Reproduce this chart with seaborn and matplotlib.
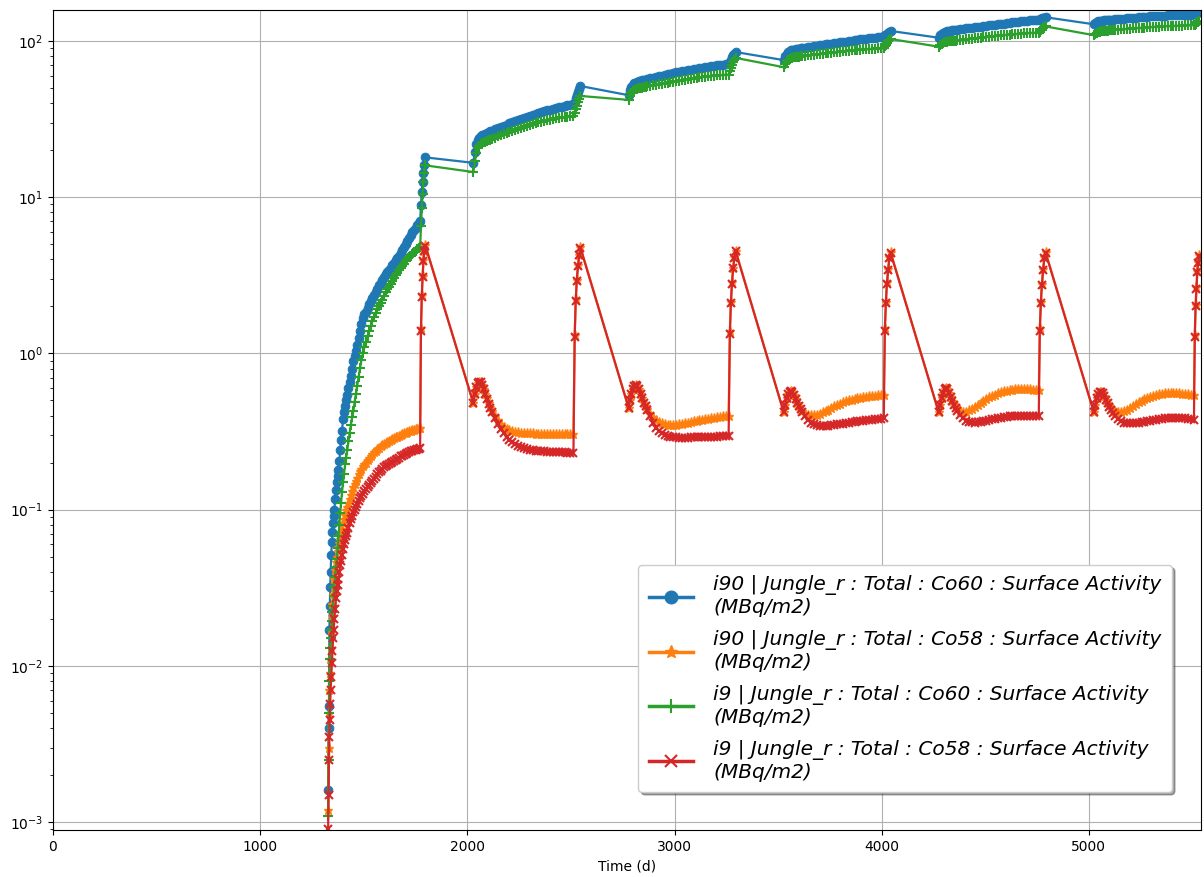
import matplotlib
matplotlib.use("Agg")
import matplotlib.pyplot as plt
import seaborn as sns
import pandas as pd

# Output times (days). Each operating cycle ends with six shutdown samples;
# there is no output between a shutdown and the next start-up.
days = [
    # cycle 1
    1328, 1330, 1332, 1334, 1336, 1338, 1340, 1343, 1346, 1349,
    1352, 1355, 1358, 1362, 1366, 1370, 1374, 1378, 1382, 1386,
    1390, 1395, 1400, 1405, 1410, 1415, 1420, 1426, 1432, 1438,
    1444, 1450, 1456, 1462, 1468, 1475, 1482, 1489, 1496, 1503,
    1510, 1518, 1526, 1534, 1542, 1550, 1558, 1566, 1574, 1582,
    1590, 1598, 1606, 1614, 1622, 1630, 1638, 1646, 1654, 1662,
    1670, 1678, 1686, 1694, 1702, 1710, 1718, 1726, 1734, 1742,
    1750, 1758, 1766, 1772,
    1776, 1780, 1784, 1788, 1792, 1797,
    # cycle 2
    2029, 2036, 2043, 2050, 2057, 2064, 2071, 2079, 2087, 2095,
    2103, 2111, 2119, 2133, 2147, 2161, 2175, 2189, 2203, 2217,
    2231, 2245, 2259, 2273, 2287, 2301, 2315, 2329, 2343, 2357,
    2371, 2385, 2399, 2413, 2427, 2441, 2455, 2469, 2483, 2497, 2512,
    2518, 2523, 2528, 2534, 2540, 2546,
    # cycle 3
    2778, 2785, 2792, 2799, 2806, 2813, 2820, 2828, 2836, 2844,
    2852, 2860, 2868, 2882, 2896, 2910, 2924, 2938, 2952, 2966,
    2980, 2994, 3008, 3022, 3036, 3050, 3064, 3078, 3092, 3106,
    3120, 3134, 3148, 3162, 3176, 3190, 3204, 3218, 3232, 3246, 3261,
    3267, 3272, 3277, 3283, 3289, 3295,
    # cycle 4
    3527, 3534, 3541, 3548, 3555, 3562, 3569, 3577, 3585, 3593,
    3601, 3609, 3617, 3631, 3645, 3659, 3673, 3687, 3701, 3715,
    3729, 3743, 3757, 3771, 3785, 3799, 3813, 3827, 3841, 3855,
    3869, 3883, 3897, 3911, 3925, 3939, 3953, 3967, 3981, 3995, 4010,
    4015, 4020, 4025, 4031, 4037, 4043,
    # cycle 5
    4275, 4282, 4289, 4296, 4303, 4310, 4317, 4325, 4333, 4341,
    4349, 4357, 4365, 4379, 4393, 4407, 4421, 4435, 4449, 4463,
    4477, 4491, 4505, 4519, 4533, 4547, 4561, 4575, 4589, 4603,
    4617, 4631, 4645, 4659, 4673, 4687, 4701, 4715, 4729, 4743, 4758,
    4763, 4768, 4773, 4779, 4785, 4791,
    # cycle 6
    5024, 5031, 5038, 5045, 5052, 5059, 5066, 5074, 5082, 5090,
    5098, 5106, 5114, 5128, 5142, 5156, 5170, 5184, 5198, 5212,
    5226, 5240, 5254, 5268, 5282, 5296, 5310, 5324, 5338, 5352,
    5366, 5380, 5394, 5408, 5422, 5436, 5450, 5464, 5478, 5492, 5507,
    5511, 5515, 5519, 5523, 5527, 5532,
]

# Surface activity (MBq/m2)
co60_i90 = [
    0.0016, 0.004, 0.0055, 0.017, 0.024, 0.032, 0.04, 0.051, 0.062, 0.072,
    0.082, 0.091, 0.10, 0.117, 0.133, 0.15, 0.164, 0.18, 0.205, 0.24,
    0.28, 0.32, 0.38, 0.42, 0.46, 0.50, 0.54, 0.60, 0.66, 0.72,
    0.80, 0.89, 0.96, 1.03, 1.13, 1.26, 1.4, 1.55, 1.68, 1.78,
    1.85, 1.96, 2.06, 2.17, 2.27, 2.37, 2.48, 2.6, 2.73, 2.84,
    2.95, 3.08, 3.22, 3.33, 3.44, 3.55, 3.67, 3.8, 3.94, 4.08,
    4.23, 4.42, 4.6, 4.83, 5.05, 5.28, 5.52, 5.75, 5.97, 6.2,
    6.4, 6.62, 6.83, 7.0,
    8.9, 10.8, 12.5, 14.3, 16.1, 18.0,
    16.6, 19.5, 22.0, 23.4, 24.1, 24.6, 24.9, 25.2, 25.5, 25.9,
    26.1, 26.4, 26.7, 27.2, 27.7, 28.2, 28.7, 29.2, 29.7, 30.2,
    30.7, 31.2, 31.7, 32.2, 32.7, 33.2, 33.7, 34.2, 34.7, 35.2,
    35.6, 36.0, 36.4, 36.8, 37.2, 37.6, 38.0, 38.4, 38.8, 39.1, 39.5,
    41.0, 43.0, 45.0, 47.5, 49.5, 51.5,
    45.0, 48.5, 51.0, 52.5, 53.5, 54.1, 54.6, 55.1, 55.5, 55.9,
    56.3, 56.7, 57.0, 57.6, 58.2, 58.8, 59.4, 60.0, 60.6, 61.2,
    61.8, 62.4, 63.0, 63.5, 64.0, 64.5, 65.0, 65.5, 66.0, 66.5,
    67.0, 67.5, 68.0, 68.5, 69.0, 69.4, 69.8, 70.2, 70.5, 70.8, 71.0,
    73.5, 76.0, 78.5, 81.0, 83.0, 85.0,
    75.5, 80.0, 83.0, 85.0, 86.3, 87.1, 87.7, 88.2, 88.7, 89.1,
    89.5, 89.9, 90.3, 90.9, 91.5, 92.1, 92.7, 93.3, 93.9, 94.5,
    95.1, 95.7, 96.3, 96.9, 97.5, 98.1, 98.7, 99.3, 99.9, 100.5,
    101.1, 101.7, 102.3, 102.9, 103.5, 104.1, 104.7, 105.3, 105.9, 106.5, 107.0,
    108.5, 110.0, 111.5, 113.0, 114.5, 116.0,
    105.0, 108.5, 111.0, 112.8, 114.0, 114.9, 115.5, 116.0, 116.5, 117.0,
    117.4, 117.8, 118.2, 118.9, 119.6, 120.3, 121.0, 121.7, 122.4, 123.1,
    123.8, 124.5, 125.2, 125.9, 126.6, 127.3, 128.0, 128.7, 129.4, 130.1,
    130.8, 131.5, 132.2, 132.9, 133.6, 134.2, 134.8, 135.4, 136.0, 136.5, 137.0,
    137.8, 138.8, 139.7, 140.6, 141.4, 142.0,
    128.0, 130.5, 132.3, 133.5, 134.3, 134.8, 135.2, 135.6, 136.0, 136.3,
    136.6, 136.9, 137.2, 137.7, 138.2, 138.7, 139.2, 139.7, 140.2, 140.7,
    141.2, 141.7, 142.2, 142.7, 143.2, 143.6, 144.0, 144.4, 144.8, 145.2,
    145.5, 145.8, 146.1, 146.4, 146.7, 147.0, 147.2, 147.4, 147.6, 147.8, 148.0,
    149.0, 150.0, 151.0, 152.0, 153.0, 154.0,
]

co58_i90 = [
    0.0012, 0.003, 0.005, 0.007, 0.009, 0.011, 0.013, 0.017, 0.021, 0.025,
    0.029, 0.032, 0.036, 0.041, 0.046, 0.05, 0.054, 0.058, 0.061, 0.065,
    0.07, 0.075, 0.082, 0.087, 0.093, 0.099, 0.104, 0.11, 0.117, 0.125,
    0.132, 0.139, 0.146, 0.152, 0.16, 0.168, 0.176, 0.183, 0.189, 0.195,
    0.2, 0.208, 0.215, 0.221, 0.227, 0.233, 0.239, 0.244, 0.249, 0.254,
    0.258, 0.263, 0.267, 0.271, 0.275, 0.279, 0.284, 0.288, 0.291, 0.294,
    0.298, 0.302, 0.305, 0.308, 0.311, 0.314, 0.317, 0.32, 0.322, 0.325,
    0.327, 0.329, 0.331, 0.333,
    1.45, 2.35, 3.15, 3.95, 4.55, 4.95,
    0.48, 0.55, 0.61, 0.645, 0.66, 0.655, 0.63, 0.59, 0.55, 0.515,
    0.485, 0.455, 0.43, 0.40, 0.375, 0.355, 0.34, 0.33, 0.323, 0.318,
    0.315, 0.313, 0.311, 0.31, 0.309, 0.308, 0.308, 0.307, 0.307, 0.306,
    0.306, 0.306, 0.305, 0.305, 0.305, 0.305, 0.305, 0.305, 0.305, 0.305, 0.305,
    1.32, 2.22, 2.95, 3.68, 4.30, 4.78,
    0.45, 0.50, 0.55, 0.59, 0.62, 0.63, 0.62, 0.59, 0.55, 0.515,
    0.485, 0.46, 0.44, 0.41, 0.39, 0.375, 0.365, 0.358, 0.353, 0.35,
    0.349, 0.349, 0.35, 0.352, 0.355, 0.358, 0.361, 0.364, 0.367, 0.37,
    0.373, 0.376, 0.379, 0.382, 0.385, 0.388, 0.391, 0.394, 0.396, 0.398, 0.40,
    1.40, 2.15, 2.85, 3.55, 4.15, 4.55,
    0.42, 0.47, 0.52, 0.55, 0.57, 0.575, 0.565, 0.54, 0.51, 0.485,
    0.46, 0.442, 0.428, 0.412, 0.404, 0.401, 0.402, 0.406, 0.412, 0.419,
    0.427, 0.437, 0.448, 0.458, 0.468, 0.477, 0.486, 0.494, 0.501, 0.507,
    0.513, 0.518, 0.522, 0.526, 0.529, 0.532, 0.535, 0.537, 0.539, 0.541, 0.542,
    1.45, 2.15, 2.85, 3.45, 4.15, 4.45,
    0.42, 0.47, 0.52, 0.56, 0.59, 0.60, 0.59, 0.56, 0.525, 0.497,
    0.475, 0.458, 0.445, 0.43, 0.424, 0.425, 0.432, 0.442, 0.455, 0.468,
    0.482, 0.496, 0.51, 0.523, 0.535, 0.546, 0.556, 0.564, 0.571, 0.577,
    0.582, 0.586, 0.589, 0.59, 0.591, 0.591, 0.59, 0.589, 0.587, 0.586, 0.585,
    1.45, 2.15, 2.80, 3.45, 4.15, 4.45,
    0.42, 0.47, 0.52, 0.55, 0.57, 0.57, 0.56, 0.535, 0.507, 0.485,
    0.465, 0.45, 0.438, 0.425, 0.42, 0.421, 0.427, 0.436, 0.447, 0.46,
    0.473, 0.486, 0.498, 0.509, 0.519, 0.528, 0.536, 0.543, 0.549, 0.553,
    0.556, 0.558, 0.559, 0.559, 0.558, 0.556, 0.553, 0.55, 0.547, 0.544, 0.541,
    1.32, 2.05, 2.65, 3.35, 3.85, 4.25,
]

co60_i9 = [
    0.0011, 0.0025, 0.005, 0.008, 0.011, 0.013, 0.015, 0.017, 0.0195, 0.022,
    0.024, 0.028, 0.032, 0.037, 0.043, 0.048, 0.057, 0.068, 0.08, 0.095,
    0.11, 0.13, 0.15, 0.17, 0.195, 0.215, 0.24, 0.275, 0.31, 0.35,
    0.39, 0.43, 0.49, 0.55, 0.62, 0.71, 0.81, 0.91, 1.0, 1.1,
    1.18, 1.29, 1.39, 1.5, 1.61, 1.72, 1.82, 1.92, 2.02, 2.11,
    2.2, 2.33, 2.47, 2.58, 2.68, 2.79, 2.92, 3.05, 3.17, 3.29,
    3.41, 3.53, 3.65, 3.76, 3.88, 4.0, 4.12, 4.22, 4.33, 4.44,
    4.55, 4.64, 4.73, 4.8,
    6.5, 8.5, 10.5, 12.5, 14.3, 16.0,
    14.5, 17.0, 19.2, 20.6, 21.4, 21.9, 22.2, 22.5, 22.7, 23.0,
    23.2, 23.4, 23.7, 24.1, 24.5, 24.9, 25.3, 25.7, 26.1, 26.5,
    26.9, 27.4, 27.8, 28.2, 28.6, 29.0, 29.4, 29.8, 30.2, 30.5,
    30.8, 31.1, 31.4, 31.7, 32.0, 32.2, 32.4, 32.6, 32.8, 32.9, 33.0,
    34.5, 36.5, 38.5, 40.5, 42.5, 44.5,
    42.0, 44.5, 46.5, 47.8, 48.6, 49.1, 49.5, 49.8, 50.1, 50.4,
    50.7, 51.0, 51.3, 51.7, 52.1, 52.5, 52.9, 53.3, 53.7, 54.1,
    54.5, 54.9, 55.3, 55.7, 56.1, 56.5, 56.9, 57.3, 57.7, 58.1,
    58.5, 58.8, 59.1, 59.4, 59.7, 60.0, 60.2, 60.4, 60.6, 60.8, 61.0,
    64.0, 67.0, 70.0, 73.0, 75.5, 78.0,
    68.0, 71.5, 74.0, 75.8, 77.0, 77.7, 78.2, 78.6, 79.0, 79.3,
    79.6, 79.9, 80.2, 80.6, 81.0, 81.4, 81.8, 82.2, 82.6, 83.0,
    83.4, 83.8, 84.2, 84.6, 85.0, 85.4, 85.8, 86.2, 86.6, 87.0,
    87.4, 87.7, 88.0, 88.3, 88.6, 88.9, 89.2, 89.5, 89.8, 90.0, 90.3,
    92.5, 95.0, 97.5, 99.5, 101.5, 103.0,
    92.0, 94.5, 96.3, 97.5, 98.3, 98.8, 99.2, 99.5, 99.8, 100.1,
    100.4, 100.7, 101.0, 101.5, 102.0, 102.5, 103.0, 103.5, 104.0, 104.5,
    105.0, 105.5, 106.0, 106.5, 107.0, 107.5, 108.0, 108.5, 109.0, 109.5,
    110.0, 110.4, 110.8, 111.2, 111.6, 112.0, 112.3, 112.6, 112.8, 113.0, 113.2,
    115.0, 117.0, 119.0, 121.0, 122.5, 124.0,
    109.0, 111.5, 113.2, 114.3, 115.0, 115.4, 115.8, 116.1, 116.4, 116.7,
    117.0, 117.3, 117.6, 118.0, 118.4, 118.8, 119.2, 119.6, 120.0, 120.4,
    120.8, 121.2, 121.6, 122.0, 122.4, 122.7, 123.0, 123.3, 123.6, 123.9,
    124.2, 124.5, 124.8, 125.0, 125.2, 125.4, 125.6, 125.8, 126.0, 126.2, 126.4,
    127.5, 129.0, 130.5, 132.0, 133.0, 134.0,
]

co58_i9 = [
    0.0009, 0.0015, 0.0025, 0.0035, 0.0045, 0.0057, 0.007, 0.0085, 0.0105, 0.0125,
    0.015, 0.017, 0.02, 0.023, 0.027, 0.03, 0.033, 0.036, 0.04, 0.044,
    0.047, 0.051, 0.056, 0.06, 0.064, 0.068, 0.071, 0.076, 0.082, 0.087,
    0.091, 0.096, 0.1, 0.104, 0.108, 0.113, 0.118, 0.122, 0.126, 0.131,
    0.135, 0.139, 0.143, 0.148, 0.153, 0.158, 0.163, 0.168, 0.173, 0.178,
    0.182, 0.187, 0.19, 0.194, 0.197, 0.2, 0.203, 0.206, 0.209, 0.212,
    0.215, 0.219, 0.222, 0.225, 0.228, 0.231, 0.234, 0.236, 0.238, 0.24,
    0.242, 0.244, 0.246, 0.247,
    1.40, 2.30, 3.10, 3.90, 4.50, 4.90,
    0.48, 0.55, 0.61, 0.645, 0.66, 0.655, 0.63, 0.59, 0.55, 0.51,
    0.475, 0.445, 0.42, 0.385, 0.355, 0.33, 0.31, 0.293, 0.28, 0.27,
    0.262, 0.256, 0.251, 0.247, 0.244, 0.242, 0.240, 0.239, 0.238, 0.237,
    0.236, 0.235, 0.235, 0.234, 0.234, 0.233, 0.233, 0.233, 0.232, 0.232, 0.232,
    1.27, 2.17, 2.91, 3.63, 4.27, 4.73,
    0.45, 0.50, 0.55, 0.59, 0.62, 0.63, 0.62, 0.59, 0.55, 0.515,
    0.485, 0.46, 0.435, 0.395, 0.36, 0.335, 0.32, 0.31, 0.302, 0.297,
    0.293, 0.291, 0.29, 0.289, 0.289, 0.289, 0.289, 0.29, 0.29, 0.291,
    0.291, 0.292, 0.292, 0.293, 0.293, 0.294, 0.294, 0.295, 0.295, 0.296, 0.297,
    1.34, 2.10, 2.80, 3.50, 4.10, 4.50,
    0.42, 0.47, 0.52, 0.55, 0.57, 0.575, 0.565, 0.54, 0.51, 0.485,
    0.46, 0.44, 0.42, 0.395, 0.375, 0.36, 0.352, 0.347, 0.345, 0.344,
    0.344, 0.345, 0.347, 0.349, 0.351, 0.353, 0.355, 0.358, 0.36, 0.362,
    0.365, 0.367, 0.369, 0.371, 0.373, 0.375, 0.377, 0.379, 0.381, 0.383, 0.385,
    1.40, 2.10, 2.80, 3.40, 4.10, 4.40,
    0.42, 0.47, 0.52, 0.56, 0.59, 0.60, 0.59, 0.56, 0.525, 0.495,
    0.47, 0.45, 0.43, 0.405, 0.385, 0.372, 0.365, 0.362, 0.361, 0.362,
    0.364, 0.367, 0.371, 0.375, 0.379, 0.383, 0.386, 0.389, 0.391, 0.393,
    0.395, 0.396, 0.397, 0.398, 0.399, 0.40, 0.40, 0.40, 0.40, 0.40, 0.40,
    1.40, 2.10, 2.75, 3.40, 4.10, 4.40,
    0.42, 0.47, 0.52, 0.55, 0.57, 0.57, 0.56, 0.535, 0.505, 0.48,
    0.455, 0.435, 0.418, 0.395, 0.378, 0.367, 0.361, 0.358, 0.357, 0.357,
    0.358, 0.36, 0.362, 0.365, 0.368, 0.371, 0.374, 0.377, 0.38, 0.382,
    0.384, 0.386, 0.387, 0.388, 0.388, 0.388, 0.387, 0.385, 0.383, 0.38, 0.377,
    1.27, 2.00, 2.60, 3.30, 3.80, 4.20,
]

series_labels = [
    "i90 | Jungle_r : Total : Co60 : Surface Activity\n(MBq/m2)",
    "i90 | Jungle_r : Total : Co58 : Surface Activity\n(MBq/m2)",
    "i9 | Jungle_r : Total : Co60 : Surface Activity\n(MBq/m2)",
    "i9 | Jungle_r : Total : Co58 : Surface Activity\n(MBq/m2)",
]
series_values = [co60_i90, co58_i90, co60_i9, co58_i9]
colors = ["#1f77b4", "#ff7f0e", "#2ca02c", "#d62728"]
markers = ["o", "*", "+", "x"]
marker_sizes = [6.2, 6.5, 7, 6]
edge_widths = [0.75, 1.0, 1.5, 1.5]

for vals in series_values:
    assert len(vals) == len(days), (len(vals), len(days))

fig = plt.figure(figsize=(12.04, 8.77), dpi=100)
ax = fig.add_axes([53 / 1204, 47 / 877, 1148 / 1204, 820 / 877])

for label, vals, col, mk, ms, mew in zip(series_labels, series_values, colors,
                                         markers, marker_sizes, edge_widths):
    df = pd.DataFrame({"day": days, "activity": vals})
    sns.lineplot(
        data=df, x="day", y="activity", ax=ax, color=col, label=label,
        marker=mk, markersize=ms, markeredgecolor=col, markerfacecolor=col,
        markeredgewidth=mew, linewidth=1.6, sort=False, estimator=None,
    )

ax.set_yscale("log")
ax.set_xlim(0, 5541)
ax.set_ylim(8.9e-4, 158)
ax.set_xlabel("Time (d)", fontsize=10)
ax.set_ylabel("")
ax.grid(True, which="major", color="#b0b0b0", linewidth=0.8)
ax.set_axisbelow(True)

leg = ax.legend(
    loc="lower right", bbox_to_anchor=(0.9748, 0.0463), borderaxespad=0,
    prop={"size": 14.5, "style": "italic"}, shadow=True, fancybox=True,
    markerscale=1.5, framealpha=1.0, handletextpad=1.0, handlelength=2.2,
    borderpad=0.52, labelspacing=0.63,
)
for h in leg.get_lines():
    h.set_linewidth(2.5)

fig.savefig("out.png", dpi=100)
